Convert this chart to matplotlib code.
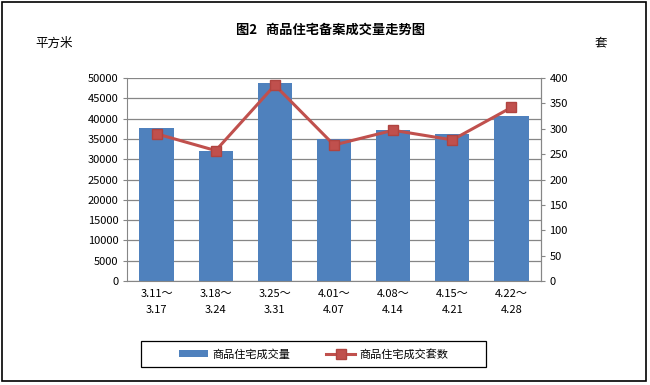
import matplotlib
matplotlib.use("Agg")
import matplotlib.pyplot as plt
from matplotlib.patches import Rectangle
import numpy as np

plt.rcParams['font.family'] = ['Noto Sans CJK SC', 'DejaVu Sans']

categories = ["3.11～\n3.17", "3.18～\n3.24", "3.25～\n3.31", "4.01～\n4.07",
              "4.08～\n4.14", "4.15～\n4.21", "4.22～\n4.28"]
area = [37600, 32100, 48800, 34900, 37200, 36200, 40600]
units = [290, 257, 386, 268, 297, 278, 342]
left_ticks = list(range(0, 50001, 5000))
right_ticks = list(range(0, 401, 50))

fig = plt.figure(figsize=(6.5, 3.85), dpi=100)
fig.patch.set_facecolor("white")
fig.patches.append(Rectangle((2/650, 4/385), 644/650, 379/385, transform=fig.transFigure,
                             fill=False, edgecolor="black", linewidth=1.2))
# legend frame
fig.patches.append(Rectangle((141/650, 1 - 367/385), 345/650, 26/385, transform=fig.transFigure,
                             fill=False, edgecolor="black", linewidth=0.9))

ax = fig.add_axes([127/650, 104/385, 414/650, 203/385])
x = np.arange(len(categories))
bars = ax.bar(x, area, width=0.58, color="#4F81BD", label="商品住宅成交量", zorder=2)
ax.set_ylim(0, 50000)
ax.set_xlim(-0.5, len(categories) - 0.5)
ax.set_yticks(left_ticks)
ax.set_yticklabels([str(v) for v in left_ticks], fontsize=8)
ax.yaxis.grid(True, color="#868686", linewidth=0.9, zorder=0)
ax.set_axisbelow(True)
ax.set_xticks(x)
ax.set_xticklabels(categories, fontsize=8, linespacing=1.7)
ax.tick_params(axis='x', length=0, pad=6)
ax.tick_params(axis='y', length=3, color="#868686", pad=3)
ax.spines["top"].set_visible(False)
for s in ["left", "bottom", "right"]:
    ax.spines[s].set_color("#868686")

ax2 = ax.twinx()
line, = ax2.plot(x, units, color="#C0504D", linewidth=2.2, marker="s", markersize=7,
                 markerfacecolor="#C0504D", markeredgecolor="#B04440", label="商品住宅成交套数", zorder=3)
ax2.set_ylim(0, 400)
ax2.set_yticks(right_ticks)
ax2.set_yticklabels([str(v) for v in right_ticks], fontsize=8)
ax2.tick_params(axis='y', length=3, color="#868686", pad=3)
for s in ["top", "left", "bottom"]:
    ax2.spines[s].set_visible(False)
ax2.spines["right"].set_color("#868686")

fig.text(331/650, 1 - 30/385, "图2   商品住宅备案成交量走势图", ha="center", va="center",
         fontsize=9.5, fontweight="bold")
fig.text(54/650, 1 - 43/385, "平方米", ha="center", va="center", fontsize=9)
fig.text(601/650, 1 - 43/385, "套", ha="center", va="center", fontsize=9)

leg = fig.legend([bars, line], ["商品住宅成交量", "商品住宅成交套数"], ncol=2,
                 loc="center", bbox_to_anchor=(314/650, 1 - 354/385), fontsize=8,
                 frameon=False, handlelength=2.6, columnspacing=3.2, handletextpad=0.4)

fig.savefig("out.png", dpi=100)
